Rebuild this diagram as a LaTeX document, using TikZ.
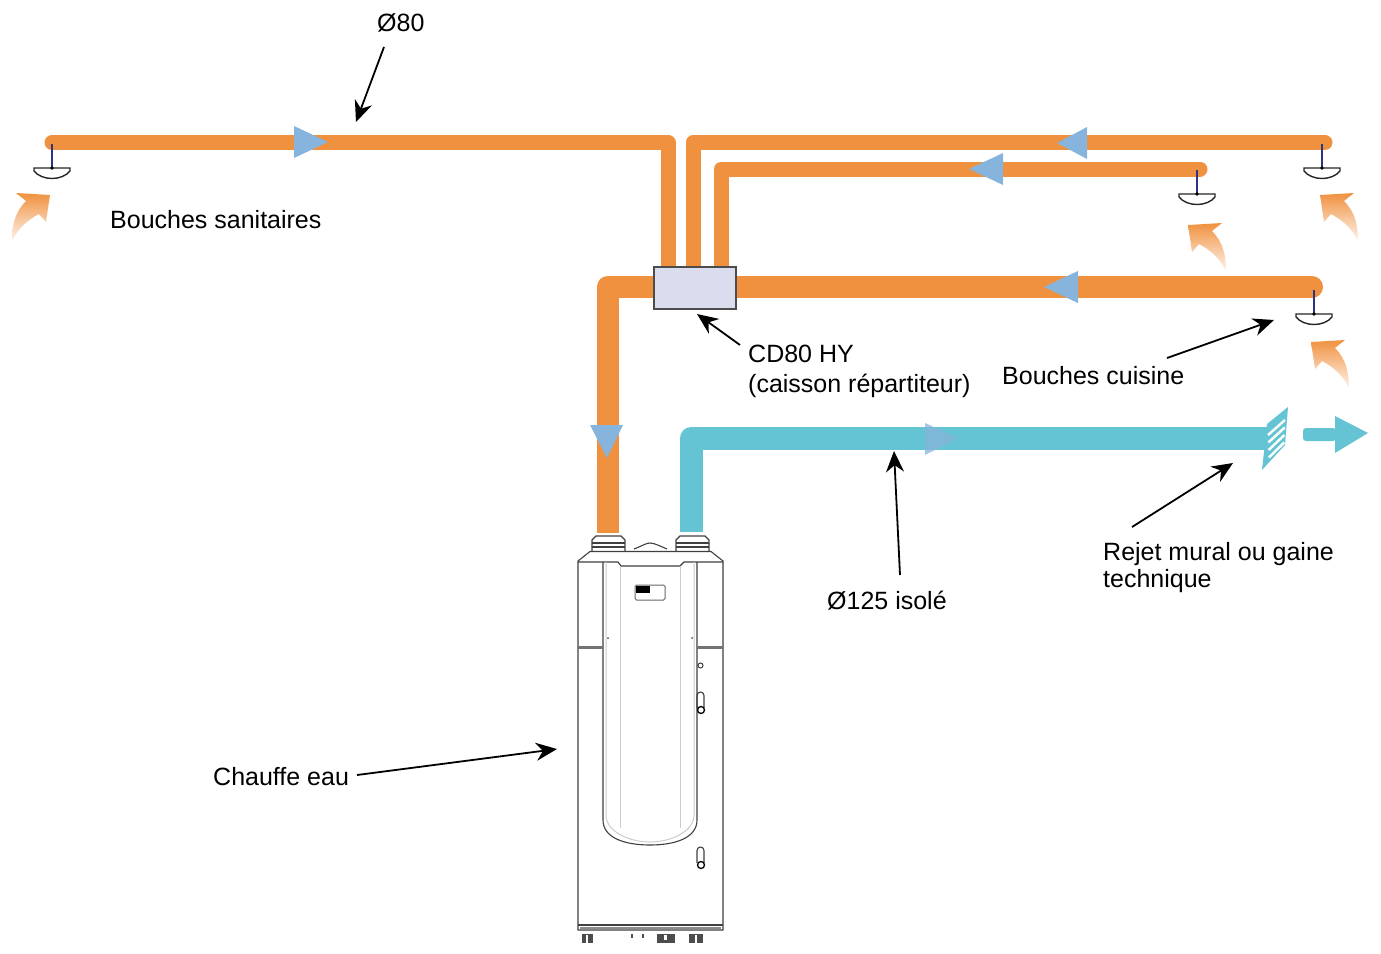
\documentclass[tikz,border=0pt]{standalone}
\usepackage{fontspec}
\setmainfont{Liberation Sans}
\usetikzlibrary{arrows.meta}
\definecolor{pipeor}{HTML}{F0913F}
\definecolor{pipete}{HTML}{64C4D3}
\definecolor{flowbl}{HTML}{86B4DC}
\definecolor{boxfill}{HTML}{D9DDEE}
\definecolor{stemb}{HTML}{2E3580}
\tikzset{
  lbl/.style={font=\fontsize{25}{29}\selectfont,inner sep=0pt,text=black,align=left},
  pipeA/.style={draw=pipeor,line width=15pt,line cap=round,line join=round},
  pipeB/.style={draw=pipeor,line width=22pt,line join=round},
  pipeC/.style={draw=pipete,line width=23pt,line join=round},
  flow/.style={fill=flowbl,draw=none},
  callout/.style={draw=black,line width=1.8pt,-{Stealth[length=21pt,width=18pt]}},
  hw/.style={draw=black!75,line width=1.1pt},
  hwthin/.style={draw=black!20,line width=1pt},
  bouche/.pic={
    \draw[stemb,line width=1.8pt] (0,-24) -- (0,0);
    \draw[black!85,line width=1.4pt,fill=white] (-18,0) -- (18,0) -- (18,3) .. controls (10,13) and (-10,13) .. (-18,3) -- cycle;
    \fill[black] (0,0) circle (1.8);
  },
  airflow/.pic={
    \shade[top color=pipeor,middle color=pipeor,bottom color=pipeor!10,draw=none]
      (0,0) -- (34,-2) -- (24,6) .. controls (35,17) and (38,30) .. (38,46)
      .. controls (32,34) and (24,26) .. (11,19) -- (4,27) -- cycle;
  }
}
\begin{document}
\begin{tikzpicture}[x=1pt,y=-1pt]
\useasboundingbox (0,0) rectangle (1381,953);
% coordinates of the duct runs
\coordinate (s1) at (52,142.5);
\coordinate (s2) at (668,142.5);
\coordinate (s3) at (668,270);
\coordinate (c1) at (1325,142.5);
\coordinate (c2) at (693,142.5);
\coordinate (c3) at (693,270);
\coordinate (d1) at (1200,169);
\coordinate (d2) at (721,169);
\coordinate (d3) at (721,270);
\coordinate (e1) at (1312,287);
\coordinate (e2) at (736,287);
\coordinate (f1) at (654,287);
\coordinate (f2) at (607.5,287);
\coordinate (f3) at (607.5,533);
\coordinate (g1) at (691.5,532);
\coordinate (g2) at (691.5,438);
\coordinate (g3) at (1268,438);
% ducts
\draw[pipeA] (s1) -- (s2) -- (s3);
\draw[pipeA] (c1) -- (c2) -- (c3);
\draw[pipeA] (d1) -- (d2) -- (d3);
\draw[pipeB,line cap=round] (e1) -- (e2);
\draw[pipeB] (f1) -- (f2) -- (f3);
\draw[pipeC] (g1) -- (g2) -- (g3);
% caisson
\node[draw=black!70,fill=boxfill,line width=1.3pt,minimum width=82pt,minimum height=42pt,inner sep=0pt] (box) at (695,288) {};
% flow triangles
\fill[flow] (294,126) -- (328,142) -- (294,158) -- cycle;
\fill[flow] (1087,127) -- (1057,143) -- (1087,159) -- cycle;
\fill[flow] (1003,153) -- (969,169) -- (1003,185) -- cycle;
\fill[flow] (1078,271) -- (1044,287) -- (1078,303) -- cycle;
\fill[flow] (590,425) -- (607,458) -- (623,425) -- cycle;
\fill[flow,opacity=.75] (925,423) -- (958,438) -- (925,455) -- cycle;
% bouches
\pic at (52,168) {bouche};
\pic at (1322,168) {bouche};
\pic at (1197,194) {bouche};
\pic at (1314,314) {bouche};
% air arrows
\pic[xscale=-1] at (50,195) {airflow};
\pic at (1320,195) {airflow};
\pic at (1188,225) {airflow};
\pic at (1311,342) {airflow};
% grille
\fill[pipete] (1288,407) -- (1285,445) -- (1262,470) -- (1267,424) -- cycle;
\foreach \i in {0,1,2,3,4}{
  \draw[white,line width=2.4pt] ({1268+\i*0.3},{435+\i*7.5}) -- ({1285-\i*0.3},{420+\i*7.5});
}
% outlet arrow
\fill[pipete,rounded corners=3pt] (1303,428) -- (1336,428) -- (1336,441) -- (1303,441) -- cycle;
\fill[pipete] (1335,416) -- (1368,433) -- (1335,453) -- cycle;
% water heater
\fill[white] (578,562) -- (590,552) -- (711,552) -- (723,562) -- (723,930) -- (578,930) -- cycle;
\draw[hw] (592,551) -- (592,540) -- (596,536) -- (621,536) -- (625,540) -- (625,551);
\draw[hw] (592,543) -- (625,543);
\draw[hw] (592,547) -- (625,547);
\draw[hw] (676,551) -- (676,540) -- (680,536) -- (705,536) -- (709,540) -- (709,551);
\draw[hw] (676,543) -- (709,543);
\draw[hw] (676,547) -- (709,547);
\draw[hw] (634,549) .. controls (642,546) and (646,543) .. (650,543) .. controls (654,543) and (660,546) .. (667,549);
\draw[hw] (578,561) -- (590,551.5) -- (711,551.5) -- (723,561) -- (723,930) -- (578,930) -- cycle;
\draw[hw] (578,562) -- (618,562) -- (621,566) -- (680,566) -- (684,562) -- (723,562);
\draw[hw] (578,925) -- (723,925);
\draw[black!45,line width=1.4pt] (580,928) -- (721,928);
\draw[hw] (603,562) -- (603,820) .. controls (603,838) and (625,845) .. (650,845) .. controls (675,845) and (697,838) .. (697,820) -- (697,562);
\draw[hwthin] (606,562) -- (606,815) .. controls (606,832) and (630,842) .. (650,842) .. controls (670,842) and (694,832) .. (694,815) -- (694,562);
\draw[hwthin] (620,566) -- (620,828);
\draw[hwthin] (680,566) -- (680,828);
\draw[black!55,line width=3pt] (578,647) -- (603,647);
\draw[black!55,line width=3pt] (697,647) -- (723,647);
\fill[black!70] (608,638) circle (1);
\fill[black!70] (692,638) circle (1);
% display
\draw[black!60,line width=1pt,rounded corners=1.5pt,fill=white] (635,585) rectangle (665,600);
\fill[black] (635.5,585.5) rectangle (650,593);
% knobs
\draw[hw,line width=1pt] (700.5,665.5) circle (2.5);
\draw[hw] (697,708) -- (697,695.5) arc (180:360:3.5) -- (704,708);
\draw[black,line width=1.3pt,fill=white] (701,710) circle (3.5);
\draw[hw] (697,863) -- (697,850.5) arc (180:360:3.5) -- (704,863);
\draw[black,line width=1.3pt,fill=white] (701,865) circle (3.5);
% feet
\fill[black!70] (582,934) rectangle (593,943);
\fill[white] (586,935) rectangle (588,943);
\fill[black!70] (657,934) rectangle (675,943);
\fill[white] (664,935) rectangle (667,940);
\fill[black!70] (689,934) rectangle (703,943);
\fill[white] (695,935) rectangle (697,943);
\fill[black!70] (631,934) rectangle (633,938);
\fill[black!70] (642,934) rectangle (644,938);
% labels
\node[lbl,anchor=base west] (t80) at (377,31) {Ø80};
\node[lbl,anchor=base west] (tbs) at (110,228) {Bouches sanitaires};
\node[lbl,anchor=base west] (tcd) at (748,362) {CD80 HY};
\node[lbl,anchor=base west] (tcs) at (748,392) {(caisson répartiteur)};
\node[lbl,anchor=base west] (tbc) at (1002,384) {Bouches cuisine};
\node[lbl,anchor=base west] (trj) at (1103,560) {Rejet mural ou gaine};
\node[lbl,anchor=base west] (trt) at (1103,587) {technique};
\node[lbl,anchor=base west] (t125) at (827,609) {Ø125 isolé};
\node[lbl,anchor=base west] (tce) at (213,785) {Chauffe eau};
% callouts
\coordinate (a1s) at (384,47); \coordinate (a1e) at (356,122);
\coordinate (a2s) at (740,345); \coordinate (a2e) at (697,314);
\coordinate (a3s) at (1167,358); \coordinate (a3e) at (1274,320);
\coordinate (a4s) at (1132,527); \coordinate (a4e) at (1233,463);
\coordinate (a5s) at (900,575); \coordinate (a5e) at (894,451);
\coordinate (a6s) at (357,775); \coordinate (a6e) at (557,749);
\draw[callout] (a1s) -- (a1e);
\draw[callout] (a2s) -- (a2e);
\draw[callout] (a3s) -- (a3e);
\draw[callout] (a4s) -- (a4e);
\draw[callout] (a5s) -- (a5e);
\draw[callout] (a6s) -- (a6e);
\end{tikzpicture}
\end{document}
